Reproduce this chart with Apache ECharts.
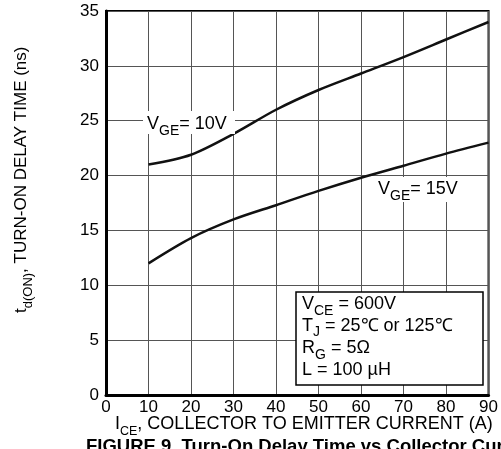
<!DOCTYPE html>
<html><head><meta charset="utf-8">
<script src="https://cdn.jsdelivr.net/npm/echarts@6/dist/echarts.min.js"></script>
<style>html,body{margin:0;padding:0;background:#fff}#c{width:501px;height:449px}</style>
</head><body><div id="c"></div>
<script>
var xTicks = [0,10,20,30,40,50,60,70,80,90];
var yTicks = [0,5,10,15,20,25,30,35];
var current = [10,20,30,40,50,60,70,80,90];
var vge10 = [21.0,21.9,23.8,26.0,27.8,29.3,30.8,32.4,34.0];
var vge15 = [12.0,14.3,16.0,17.3,18.6,19.8,20.9,22.0,23.0];
var FONT = '"Liberation Sans", Arial, sans-serif';

var cv = document.createElement('canvas').getContext('2d');
function tw(t, s, b){ cv.font = (b?'bold ':'') + s + 'px ' + FONT; return cv.measureText(t).width; }
// build a row of text pieces starting at (x, baseline); piece = [text,size,dy,bold]
function row(x, base, arr){
  var out = [], cx = 0;
  arr.forEach(function(p){
    out.push({type:'text', x: x + cx, y: base + (p[2]||0) - 0.32*p[1], z: 100,
      style:{text:p[0], fill:'#000', font:(p[3]?'bold ':'') + p[1]+'px '+FONT, verticalAlign:'middle', align:'left'}});
    cx += tw(p[0], p[1], p[3]);
  });
  return out;
}
var T = 17, M = 18, S = 14;
var g = [];
// label backgrounds
g.push({type:'rect', z:95, shape:{x:143,y:111,width:92,height:23}, style:{fill:'#fff'}});
g.push({type:'rect', z:95, shape:{x:374,y:177,width:88,height:25}, style:{fill:'#fff'}});
g = g.concat(row(147,130,[['V',M],['GE',S,6],['= 10V',M]]));
g = g.concat(row(378,195,[['V',M],['GE',S,6],['= 15V',M]]));
// condition box
g.push({type:'rect', z:95, shape:{x:296,y:292,width:187,height:93}, style:{fill:'#fff', stroke:'#000', lineWidth:1.5}});
g = g.concat(row(302,310,[['V',M],['CE',S,6],[' = 600V',M]]));
g = g.concat(row(302,332,[['T',M],['J',S,5],[' = 25\u2103 or 125\u2103',M]]));
g = g.concat(row(302,354,[['R',M],['G',S,6],[' = 5\u03a9',M]]));
g = g.concat(row(302,376,[['L = 100 \u00b5H',M]]));
// x axis title
g = g.concat(row(115,430,[['I',18],['CE',12.5,6],[', COLLECTOR TO EMITTER CURRENT (A)',18]]));
// caption (cut off at bottom)
g = g.concat(row(86,453,[['FIGURE 9. Turn-On Delay Time vs Collector Current',18.5,0,true]]));
// y axis title rotated
g.push({type:'group', x:27, y:313, rotation:Math.PI/2, z:100,
  children: row(0,0,[['t',T],['d(ON)',13,6],[', TURN-ON DELAY TIME (ns)',T]])});

var chart = echarts.init(document.getElementById('c'), null, {renderer:'canvas'});
chart.setOption({
  animation:false,
  grid:{left:106, right:10, top:11, bottom:54, show:true, borderColor:'#000', borderWidth:2, backgroundColor:'transparent'},
  xAxis:{type:'value', min:0, max:90, interval:10,
    axisLine:{show:true, onZero:false, lineStyle:{color:'#000', width:3}},
    axisTick:{show:false},
    axisLabel:{color:'#000', fontSize:T, fontFamily:FONT, margin:4},
    splitLine:{show:true, lineStyle:{color:'#555', width:1}}},
  yAxis:{type:'value', min:0, max:35, interval:5,
    axisLine:{show:true, onZero:false, lineStyle:{color:'#000', width:3}},
    axisTick:{show:false},
    axisLabel:{color:'#000', fontSize:T, fontFamily:FONT, margin:7},
    splitLine:{show:true, lineStyle:{color:'#555', width:1}}},
  series:[
    {type:'line', name:'VGE=10V', data:current.map(function(x,i){return [x,vge10[i]];}), smooth:0.3, showSymbol:false, lineStyle:{color:'#111', width:2.5}},
    {type:'line', name:'VGE=15V', data:current.map(function(x,i){return [x,vge15[i]];}), smooth:0.3, showSymbol:false, lineStyle:{color:'#111', width:2.5}}
  ],
  graphic:g
});
</script></body></html>
